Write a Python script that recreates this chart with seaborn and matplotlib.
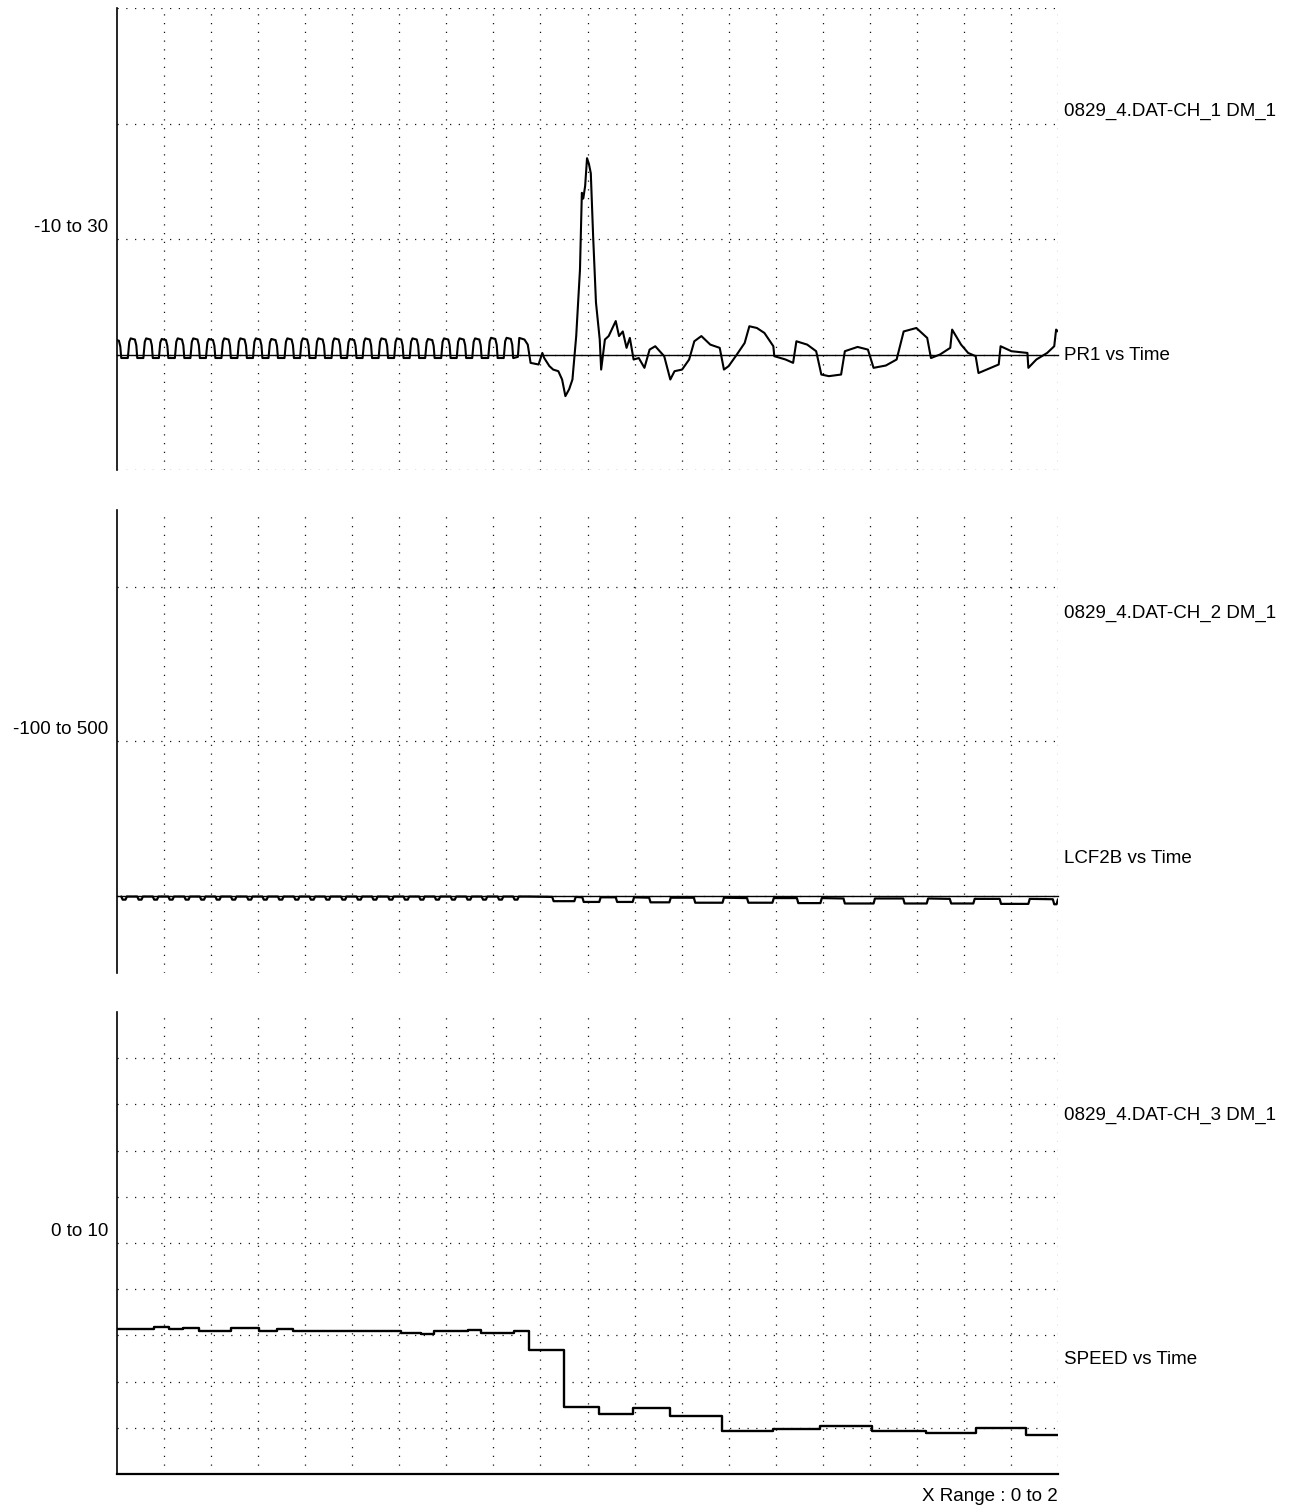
import matplotlib
matplotlib.use("Agg")
import matplotlib.pyplot as plt
import matplotlib.transforms as mtransforms
import seaborn as sns

# --- data ----------------------------------------------------------------
# engine cycles (rise time of each PR1 pulse), shared by PR1 and LCF2B
cycle_rise = [-0.011, 0.023, 0.056, 0.089, 0.123, 0.156, 0.189, 0.222, 0.256,
              0.289, 0.322, 0.356, 0.389, 0.422, 0.456, 0.489, 0.522, 0.556,
              0.589, 0.622, 0.655, 0.689, 0.722, 0.755, 0.789, 0.822]
pr1_top = [1.3, 1.4, 1.4, 1.35, 1.4, 1.4, 1.35, 1.4, 1.4, 1.4, 1.35, 1.4, 1.4,
           1.4, 1.4, 1.35, 1.4, 1.4, 1.4, 1.4, 1.35, 1.4, 1.4, 1.4, 1.45, 1.45]
pr1_low = -0.3

pr1_tail_t = [0.843, 0.852, 0.855, 0.866, 0.873, 0.879, 0.896, 0.904, 0.908, 0.919,
              0.927, 0.938, 0.946, 0.953, 0.961, 0.968, 0.976, 0.984, 0.988, 0.991,
              0.995, 0.999, 1.003, 1.007, 1.012, 1.018, 1.026, 1.029, 1.037, 1.045,
              1.052, 1.060, 1.067, 1.075, 1.083, 1.090, 1.098, 1.109, 1.121, 1.132,
              1.144, 1.163, 1.176, 1.185, 1.201, 1.216, 1.227, 1.242, 1.261, 1.281,
              1.290, 1.300, 1.315, 1.334, 1.344, 1.360, 1.376, 1.395, 1.397, 1.421,
              1.437, 1.444, 1.467, 1.486, 1.497, 1.513, 1.539, 1.547, 1.574, 1.596,
              1.608, 1.634, 1.657, 1.672, 1.699, 1.722, 1.730, 1.749, 1.771, 1.775,
              1.794, 1.809, 1.825, 1.831, 1.874, 1.878, 1.901, 1.935, 1.937, 1.954,
              1.977, 1.992, 1.996, 2.0]
pr1_tail_v = [-0.3, -0.2, 1.44, 1.3, 0.86, -0.72, -0.86, 0.14, -0.3, -1.0,
              -1.3, -1.44, -2.16, -3.6, -3.0, -2.16, 1.6, 7.35, 14.0, 13.5,
              14.6, 17.0, 16.5, 15.7, 10.2, 4.5, 1.3, -1.3, 1.3, 1.6,
              2.2, 2.9, 1.6, 2.0, 0.58, 1.44, -0.43, -0.3, -1.15, 0.43,
              0.72, -0.14, -2.16, -1.44, -1.3, -0.43, 1.15, 1.6, 0.86, 0.58,
              -1.3, -1.0, -0.14, 1.0, 2.45, 2.3, 1.87, 0.72, -0.14, -0.43,
              -0.72, 1.15, 0.86, 0.29, -1.73, -1.87, -1.73, 0.29, 0.66, 0.43,
              -1.15, -0.95, -0.43, 2.0, 2.3, 1.44, -0.3, 0.0, 0.58, 2.16,
              0.86, 0.14, -0.14, -1.6, -0.86, 0.72, 0.29, 0.14, -1.15, -0.43,
              0.14, 0.72, 2.16, 2.0]

lcf_cycle_base = -1.0
lcf_cycle_low = -5.0
lcf_dip_start = [0.925, 0.989, 1.060, 1.131, 1.226, 1.339, 1.445, 1.544, 1.671, 1.770, 1.876, 1.989]
lcf_dip_end = [0.975, 1.028, 1.099, 1.177, 1.290, 1.396, 1.498, 1.611, 1.724, 1.823, 1.940, 2.000]
lcf_dip_base = [-1.5, -2.0, -2.0, -2.5, -2.5, -3.0, -3.0, -3.5, -3.5, -4.0, -4.0, -4.5]
lcf_dip_low = [-7.0, -8.0, -8.0, -8.5, -9.0, -9.0, -9.5, -10.0, -10.0, -10.0, -10.5, -11.0]

speed_t = [0.0, 0.079, 0.111, 0.140, 0.175, 0.242, 0.302, 0.341, 0.373, 0.603,
           0.646, 0.674, 0.745, 0.773, 0.844, 0.876, 0.950, 1.024, 1.096, 1.176,
           1.286, 1.395, 1.495, 1.605, 1.720, 1.825, 1.932, 2.0]
speed_v = [3.14, 3.18, 3.13, 3.16, 3.10, 3.15, 3.10, 3.14, 3.10, 3.06,
           3.02, 3.10, 3.12, 3.06, 3.09, 2.68, 1.45, 1.30, 1.42, 1.26,
           0.92, 0.98, 1.03, 0.93, 0.88, 1.00, 0.85, 0.85]

channels = ["0829_4.DAT-CH_1 DM_1", "0829_4.DAT-CH_2 DM_1", "0829_4.DAT-CH_3 DM_1"]
titles = ["PR1 vs Time", "LCF2B vs Time", "SPEED vs Time"]
ranges = ["-10 to 30", "-100 to 500", "0 to 10"]
time_ticks = [0.1, 0.2, 0.3, 0.4, 0.5, 0.6, 0.7, 0.8, 0.9, 1.0,
              1.1, 1.2, 1.3, 1.4, 1.5, 1.6, 1.7, 1.8, 1.9, 2.0]


def pulse_trace(rise, top, low):
    """Square-ish pressure pulses, one per engine cycle."""
    t, v = [], []
    for r, h in zip(rise, top):
        t += [r, r + 0.003, r + 0.006, r + 0.015, r + 0.018, r + 0.020]
        v += [low, h - 0.3, h, h - 0.1, h - 0.6, low]
    return t, v


def dip_trace(start, end, base, low):
    t, v = [], []
    for s, e, b, lo in zip(start, end, base, low):
        t += [s, s + 0.003, e - 0.003, e]
        v += [b, lo, lo, b]
    return t, v


pr1_t, pr1_v = pulse_trace(cycle_rise, pr1_top, pr1_low)
pr1_t += pr1_tail_t
pr1_v += pr1_tail_v

lcf_t, lcf_v = dip_trace([r + 0.020 for r in cycle_rise], [r + 0.032 for r in cycle_rise],
                         [lcf_cycle_base] * len(cycle_rise), [lcf_cycle_low] * len(cycle_rise))
tail_t, tail_v = dip_trace(lcf_dip_start, lcf_dip_end, lcf_dip_base, lcf_dip_low)
lcf_t += [0.875] + tail_t
lcf_v += [lcf_cycle_base] + tail_v

# --- figure ---------------------------------------------------------------
sns.set_style("white")
plt.rcParams['font.family'] = ['Liberation Sans', 'DejaVu Sans']
plt.rcParams['text.color'] = 'black'

fig = plt.figure(figsize=(13.06, 15.11), dpi=100)
left, width = 0.0896, 0.7205
ax1 = fig.add_axes([left, 0.6889, width, 0.3058])
ax2 = fig.add_axes([left, 0.3561, width, 0.3064])
ax3 = fig.add_axes([left, 0.0245, width, 0.3058])

grid_kw = dict(color='#151515', linestyle=(0, (1, 6)), linewidth=0.9)
line_kw = dict(color='black', estimator=None, sort=False, legend=False)

sns.lineplot(x=pr1_t, y=pr1_v, ax=ax1, linewidth=1.5, **line_kw)
sns.lineplot(x=lcf_t, y=lcf_v, ax=ax2, linewidth=1.6, **line_kw)
sns.lineplot(x=speed_t, y=speed_v, ax=ax3, linewidth=1.7, drawstyle='steps-post', **line_kw)

ax1.set_ylim(-10, 30)
ax1.set_yticks([-10, 0, 10, 20, 30])
ax2.set_ylim(-100, 500)
ax2.set_yticks([0, 200, 400])
ax3.set_ylim(0, 10)
ax3.set_yticks([0, 1, 2, 3, 4, 5, 6, 7, 8, 9])

mid_values = [10, 200, 5]
for ax, ch, ti, rg, mid in zip([ax1, ax2, ax3], channels, titles, ranges, mid_values):
    ax.set_xlim(0, 2)
    ax.set_xticks(time_ticks)
    ax.grid(True, **grid_kw)
    ax.set_xlabel('')
    ax.set_ylabel('')
    ax.tick_params(axis='both', which='both', direction='in', labelleft=False,
                   labelbottom=False, color='black')
    ax.tick_params(axis='y', length=7, width=1.2)
    ax.tick_params(axis='x', length=11, width=1.2)
    ax.spines['top'].set_visible(False)
    ax.spines['right'].set_visible(False)
    ax.spines['left'].set_color('black')
    ax.spines['left'].set_linewidth(1.2)
    ax.spines['bottom'].set_color('black')

    # range label sits just above its grid line
    trans = mtransforms.blended_transform_factory(ax.transAxes, ax.transData)
    trans = trans + mtransforms.ScaledTranslation(0, 0.07, fig.dpi_scale_trans)
    ax.text(-0.0096, mid, rg, transform=trans, ha='right', va='baseline',
            fontsize=13.5, color='black')
    ax.text(1.006, 0.777, ch, transform=ax.transAxes, ha='left', va='center',
            fontsize=13.5, color='black')
    ax.text(1.006, 0.248, ti, transform=ax.transAxes, ha='left', va='center',
            fontsize=13.5, color='black')

# zero reference line carries the time ticks on the first two channels
for ax in (ax1, ax2):
    ax.spines['bottom'].set_position(('data', 0))
    ax.spines['bottom'].set_linewidth(1.0)
ax3.spines['bottom'].set_linewidth(1.6)

ax3.text(1.0, -0.048, "X Range : 0 to 2", transform=ax3.transAxes,
         ha='right', va='center', fontsize=13.5, color='black')

fig.savefig("out.png", dpi=100, facecolor='white')
